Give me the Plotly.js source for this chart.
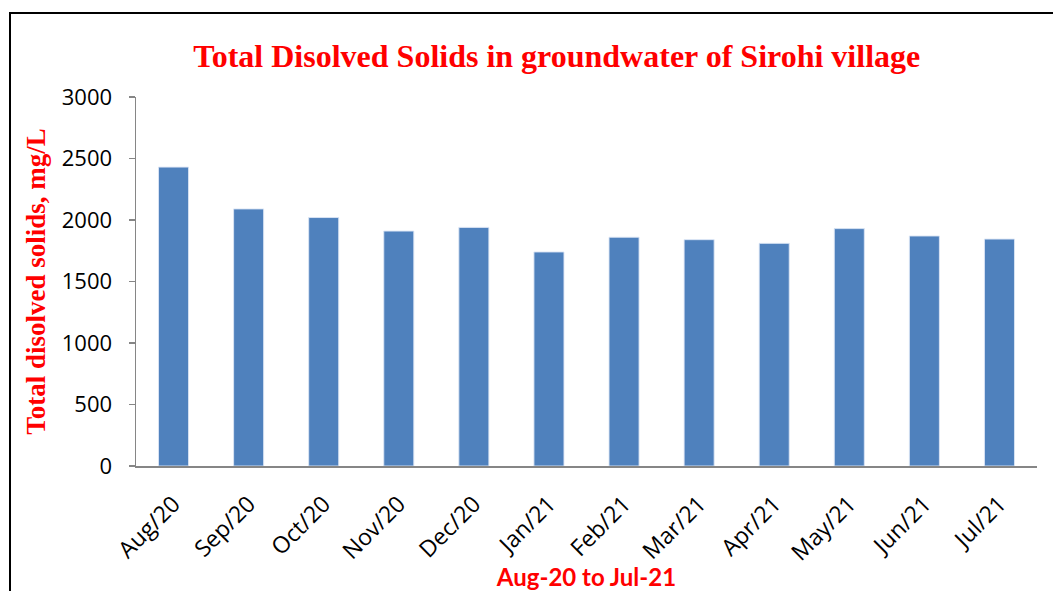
<!DOCTYPE html>
<html>
<head>
<meta charset="utf-8">
<script src="https://cdn.plot.ly/plotly-3.0.1.min.js"></script>
<style>
  html, body { margin: 0; padding: 0; background: #fff; }
  #wrap { position: relative; width: 1053px; height: 591px; overflow: hidden; }
  #frame { position: absolute; left: 9px; top: 12px; width: 1060px; height: 600px;
           border-top: 2px solid #000; border-left: 2px solid #000; pointer-events: none; }
  #chart { position: absolute; left: 0; top: 0; width: 1053px; height: 591px; }
</style>
</head>
<body>
<div id="wrap">
  <div id="chart"></div>
  <div id="frame"></div>
</div>
<script>
const months = ["Aug/20", "Sep/20", "Oct/20", "Nov/20", "Dec/20", "Jan/21",
                "Feb/21", "Mar/21", "Apr/21", "May/21", "Jun/21", "Jul/21"];
const tdsValues = [2430, 2090, 2020, 1910, 1940, 1740, 1860, 1840, 1810, 1930, 1870, 1845];
const chartTitle = "Total Disolved Solids in groundwater of Sirohi village";
const xTitle = "Aug-20 to Jul-21";
const yTitle = "Total disolved solids, mg/L";

const trace = {
  type: "bar",
  x: months,
  y: tdsValues,
  marker: { color: "#4F81BD", line: { color: "rgba(220,230,245,0.9)", width: 1 } },
  hoverinfo: "x+y"
};

const layout = {
  width: 1053,
  height: 591,
  margin: { l: 136, r: 16, t: 97, b: 125 },
  paper_bgcolor: "rgba(0,0,0,0)",
  plot_bgcolor: "rgba(0,0,0,0)",
  showlegend: false,
  bargap: 0.6,
  title: {
    text: "<b>" + chartTitle + "</b>",
    font: { family: "Liberation Serif, Times New Roman, serif", size: 32, color: "#FF0000" },
    x: 0.467, xanchor: "center", xref: "paper",
    y: 0.905, yanchor: "middle"
  },
  xaxis: {
    type: "category",
    showline: true, linecolor: "#868686", linewidth: 1.5,
    ticks: "", showgrid: false, zeroline: false,
    tickangle: -45,
    ticklabelstandoff: 14,
    tickfont: { family: "Open Sans, sans-serif", size: 23, color: "#000" },
    title: {
      text: "<b>" + xTitle + "</b>",
      font: { family: "Lato, Open Sans, sans-serif", size: 24, color: "#FF0000" },
      standoff: 3
    }
  },
  yaxis: {
    range: [0, 3000], dtick: 500,
    showline: true, linecolor: "#868686", linewidth: 1.5,
    ticks: "outside", ticklen: 6, tickcolor: "#868686", tickwidth: 1.5,
    showgrid: false, zeroline: false,
    ticklabelstandoff: 12,
    tickfont: { family: "Open Sans, sans-serif", size: 22, color: "#000" },
    title: {
      text: "<b>" + yTitle + "</b>",
      font: { family: "Liberation Serif, Times New Roman, serif", size: 27, color: "#FF0000" },
      standoff: 8
    }
  }
};

Plotly.newPlot("chart", [trace], layout, { displayModeBar: false, staticPlot: true });
</script>
</body>
</html>
